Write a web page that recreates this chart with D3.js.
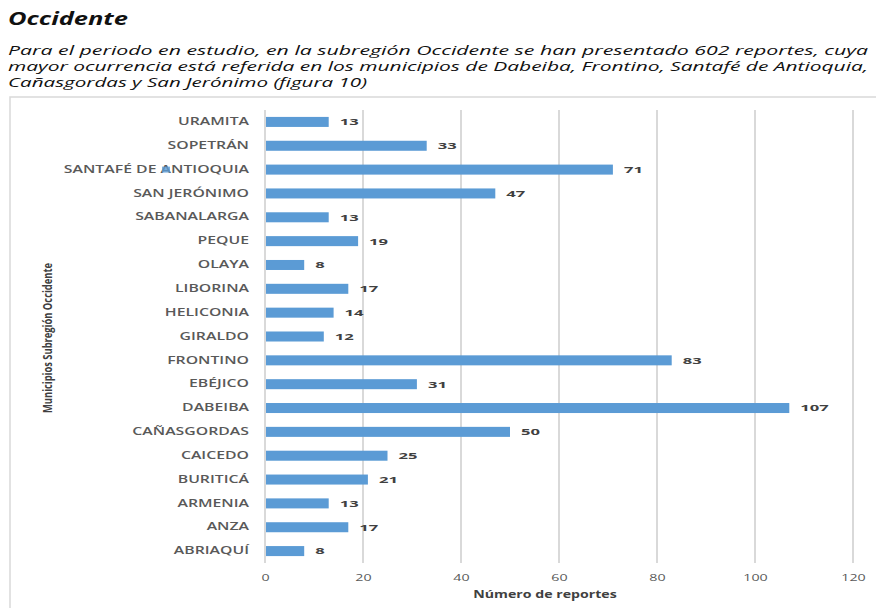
<!DOCTYPE html>
<html>
<head>
<meta charset="utf-8">
<script src="https://cdn.jsdelivr.net/npm/d3@7"></script>
<style>
  body { margin: 0; background: #fff; }
  text { font-family: "Open Sans", "Noto Sans", sans-serif; }
</style>
</head>
<body>
<div id="chart"></div>
<script>
// data
const municipios = ["URAMITA", "SOPETRÁN", "SANTAFÉ DE ANTIOQUIA", "SAN JERÓNIMO", "SABANALARGA",
  "PEQUE", "OLAYA", "LIBORINA", "HELICONIA", "GIRALDO", "FRONTINO", "EBÉJICO", "DABEIBA",
  "CAÑASGORDAS", "CAICEDO", "BURITICÁ", "ARMENIA", "ANZA", "ABRIAQUÍ"];
const reportes = [13, 33, 71, 47, 13, 19, 8, 17, 14, 12, 83, 31, 107, 50, 25, 21, 13, 17, 8];
const xTicks = [0, 20, 40, 60, 80, 100, 120];
const parrafo = [
  "Para el periodo en estudio, en la subregión Occidente se han presentado 602 reportes, cuya",
  "mayor ocurrencia está referida en los municipios de Dabeiba, Frontino, Santafé de Antioquia,",
  "Cañasgordas y San Jerónimo (figura 10)"
];

const width = 876;
const height = 608;
const margin = {t: 110, b: 45, l: 265, r: 23};
// the source picture is stretched sideways
const sx = {cat: 1.58, val: 1.75, tick: 1.5, title: 1.35};

const svg = d3.select("#chart")
    .append("svg")
    .attr("width", width)
    .attr("height", height)
    .attr("viewBox", [0, 0, width, height]);

// heading + paragraph
svg.append("text")
    .attr("x", 8)
    .attr("y", 25)
    .attr("font-size", "17px")
    .attr("font-weight", "bold")
    .attr("font-style", "italic")
    .attr("fill", "#111")
    .attr("textLength", 120)
    .attr("lengthAdjust", "spacingAndGlyphs")
    .text("Occidente");

const lineLen = [860, 860, 359];
svg.selectAll(".parrafo")
    .data(parrafo)
    .enter()
    .append("text")
    .attr("class", "parrafo")
    .attr("x", 8)
    .attr("y", (d, i) => 55 + i * 16)
    .attr("font-size", "12.5px")
    .attr("font-style", "italic")
    .attr("fill", "#111")
    .attr("textLength", (d, i) => lineLen[i])
    .attr("lengthAdjust", "spacingAndGlyphs")
    .text(d => d);

// chart frame
svg.append("rect")
    .attr("x", 10)
    .attr("y", 97)
    .attr("width", 900)
    .attr("height", 530)
    .attr("fill", "none")
    .attr("stroke", "#d9d9d9")
    .attr("stroke-width", 1.5);

const x = d3.scaleLinear()
    .domain([0, 120])
    .range([margin.l, width - margin.r]);

const y = d3.scaleBand()
    .domain(municipios)
    .range([margin.t, height - margin.b])
    .paddingInner(0.58)
    .paddingOuter(0.29);

// gridlines
svg.append("g")
    .selectAll("line")
    .data(xTicks.slice(1))
    .enter()
    .append("line")
    .attr("x1", d => x(d))
    .attr("x2", d => x(d))
    .attr("y1", margin.t)
    .attr("y2", height - margin.b)
    .attr("stroke", "#d9d9d9")
    .attr("stroke-width", 2);

// bars
svg.append("g")
    .selectAll("rect")
    .data(municipios)
    .enter()
    .append("rect")
    .attr("x", x(0))
    .attr("y", d => y(d))
    .attr("width", (d, i) => x(reportes[i]) - x(0))
    .attr("height", y.bandwidth())
    .attr("fill", "#5b9bd5");

// value labels
svg.append("g")
    .selectAll("text")
    .data(municipios)
    .enter()
    .append("text")
    .attr("transform", (d, i) => "translate(" + (x(reportes[i]) + 11) + "," + (y(d) + y.bandwidth() / 2) + ")scale(" + sx.val + ",1)")
    .attr("dy", "0.36em")
    .attr("font-size", "9.5px")
    .attr("font-weight", "bold")
    .attr("fill", "#404040")
    .text((d, i) => reportes[i]);

// y axis
const yAxis = svg.append("g")
    .attr("transform", "translate(" + margin.l + ",0)")
    .call(d3.axisLeft(y).tickSize(0).tickPadding(16));
yAxis.select(".domain")
    .attr("stroke", "#d9d9d9")
    .attr("stroke-width", 2)
    .attr("d", "M0," + margin.t + "V" + (height - margin.b));
yAxis.selectAll(".tick text")
    .attr("x", null)
    .attr("transform", "translate(-16,0)scale(" + sx.cat + ",1)")
    .attr("font-size", "10px")
    .attr("font-weight", 600)
    .attr("fill", "#595959");

// stray blue mark next to the SANTAFÉ label
svg.append("rect")
    .attr("x", 162)
    .attr("y", y("SANTAFÉ DE ANTIOQUIA") + 2)
    .attr("width", 8)
    .attr("height", 6)
    .attr("fill", "#5b9bd5")
    .attr("opacity", 0.8);

// x axis
const xAxis = svg.append("g")
    .attr("transform", "translate(0," + (height - margin.b) + ")")
    .call(d3.axisBottom(x).tickValues(xTicks).tickSize(0).tickPadding(11));
xAxis.select(".domain").remove();
xAxis.selectAll(".tick text")
    .attr("y", null)
    .attr("transform", "translate(0,11)scale(" + sx.tick + ",1)")
    .attr("font-size", "9.5px")
    .attr("fill", "#595959");

// axis titles
svg.append("text")
    .attr("transform", "translate(545,598)scale(" + sx.title + ",1)")
    .attr("text-anchor", "middle")
    .attr("font-size", "10.5px")
    .attr("font-weight", "bold")
    .attr("fill", "#404040")
    .text("Número de reportes");

svg.append("text")
    .attr("transform", "translate(52,338)rotate(-90)")
    .attr("text-anchor", "middle")
    .attr("font-family", "'Liberation Sans Narrow', 'DejaVu Sans Condensed', sans-serif")
    .attr("font-size", "11.5px")
    .attr("font-weight", "bold")
    .attr("fill", "#404040")
    .attr("textLength", 150)
    .attr("lengthAdjust", "spacingAndGlyphs")
    .text("Municipios Subregión Occidente");
</script>
</body>
</html>
